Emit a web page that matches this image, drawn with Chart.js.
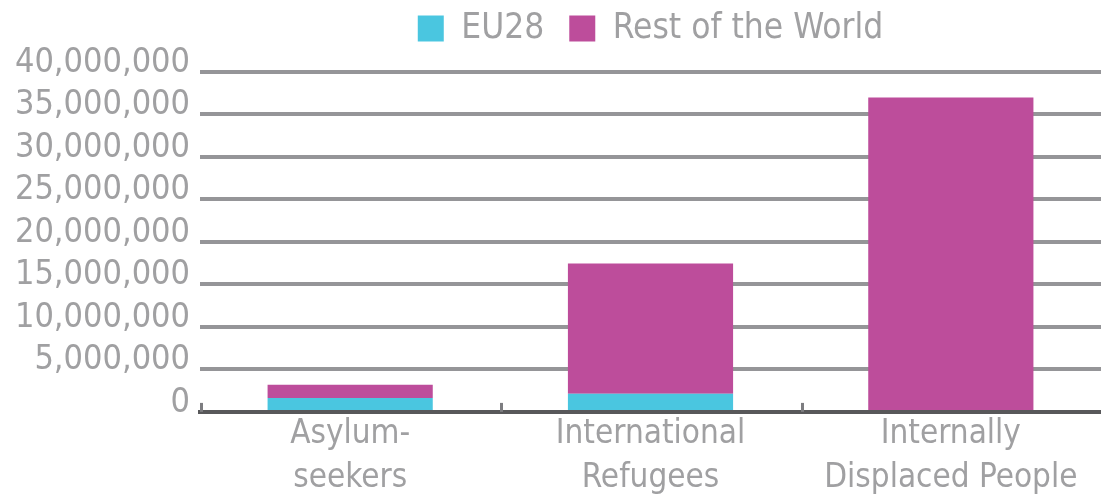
<!DOCTYPE html>
<html>
<head>
<meta charset="utf-8">
<script src="https://cdn.jsdelivr.net/npm/chart.js@4/dist/chart.umd.min.js"></script>
<style>
  html, body { margin: 0; padding: 0; background: #fff; }
  #wrap { width: 1101px; height: 501px; position: relative; }
</style>
</head>
<body>
<div id="wrap"><canvas id="myChart"></canvas></div>
<script>
const categories = [['Asylum-', 'seekers'], ['International', 'Refugees'], ['Internally', 'Displaced People']];
const eu28 = [1650000, 2150000, 0];
const restOfWorld = [1550000, 15300000, 37000000];
const yMax = 40000000;
const yStep = 5000000;

const FONT = "'DejaVu Sans Condensed', 'Liberation Sans Narrow', 'Liberation Sans', sans-serif";
const GREY_TEXT = '#a0a0a2';

// small marks at the category boundaries, pointing up from the axis
const boundaryTicks = {
    id: 'boundaryTicks',
    afterDatasetsDraw(chart) {
        const x = chart.scales.x;
        const c = chart.ctx;
        const n = chart.data.labels.length;
        const step = (x.right - x.left) / n;
        c.save();
        c.fillStyle = '#7d7d80';
        for (let i = 0; i <= n; i++) {
            const px = Math.round(x.left + i * step);
            c.fillRect(px, x.top - 9, 3, 9);
        }
        c.restore();
    }
};

const ctx = document.getElementById('myChart');
new Chart(ctx, {
    type: 'bar',
    data: {
        labels: categories,
        datasets: [{
            label: 'EU28',
            data: eu28,
            backgroundColor: '#4ac6e0',
            borderWidth: 0,
        }, {
            label: 'Rest of the World',
            data: restOfWorld,
            backgroundColor: '#bd4d9b',
            borderWidth: 0,
        }]
    },
    options: {
        responsive: true,
        maintainAspectRatio: false,
        animation: false,
        layout: { padding: { top: -14, left: 0, right: 0, bottom: 0 } },
        datasets: {
            bar: { barPercentage: 0.55, categoryPercentage: 1 }
        },
        plugins: {
            legend: {
                position: 'top',
                fullSize: false,
                labels: {
                    boxWidth: 26,
                    boxHeight: 26,
                    padding: 25,
                    color: GREY_TEXT,
                    font: { family: FONT, size: 35, lineHeight: 1 },
                },
            },
            // empty spacer between legend and plot
            subtitle: {
                display: true,
                text: ' ',
                weight: 500,
                fullSize: false,
                font: { size: 1, lineHeight: 1 },
                padding: 7.5,
            },
            tooltip: { enabled: false },
        },
        scales: {
            x: {
                stacked: true,
                grid: { display: false, drawTicks: false },
                border: { display: true, color: '#58585a', width: 4 },
                ticks: {
                    autoSkip: false,
                    color: GREY_TEXT,
                    padding: 0,
                    maxRotation: 0,
                    font: { family: FONT, size: 33, lineHeight: 1.35 },
                },
            },
            y: {
                stacked: true,
                min: 0,
                max: yMax,
                grid: { color: '#959598', lineWidth: 4, drawTicks: false },
                border: { display: false },
                ticks: {
                    autoSkip: false,
                    stepSize: yStep,
                    color: GREY_TEXT,
                    padding: 10,
                    labelOffset: -9,
                    font: { family: FONT, size: 34, lineHeight: 1 },
                    callback: v => v.toLocaleString('en-US'),
                },
                afterFit: s => {
                    s.width = 200;
                },
            }
        }
    },
    plugins: [boundaryTicks]
});
</script>
</body>
</html>
